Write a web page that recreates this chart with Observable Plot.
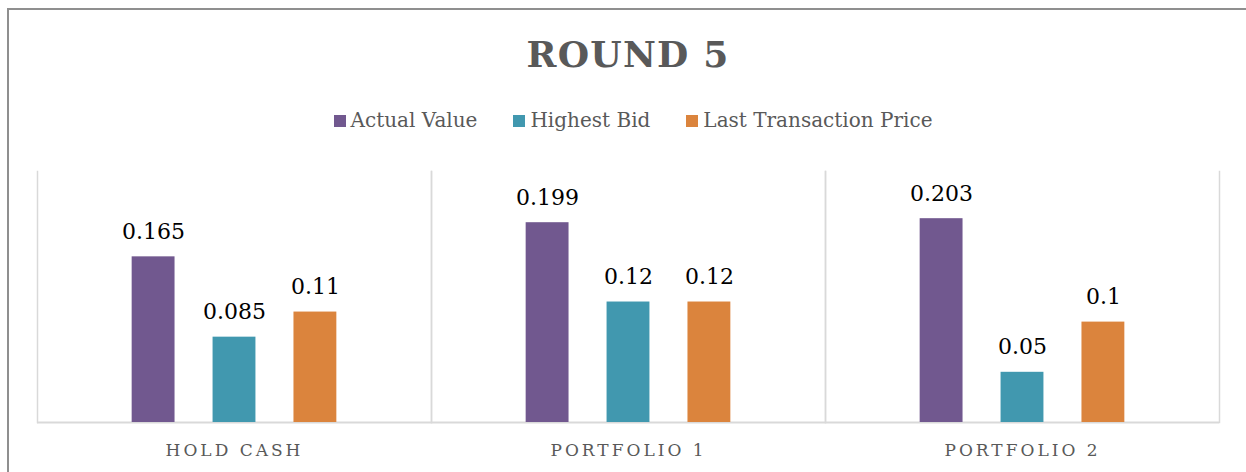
<!DOCTYPE html>
<html>
<head>
<meta charset="utf-8">
<script src="https://cdn.jsdelivr.net/npm/d3@7"></script>
<script src="https://cdn.jsdelivr.net/npm/@observablehq/plot@0.6"></script>
<style>
  html, body { margin: 0; padding: 0; background: #fff; }
  body { width: 1246px; height: 472px; overflow: hidden; position: relative; font-family: "DejaVu Serif", serif; }
  .frame { position: absolute; left: 7px; top: 8px; width: 1300px; height: 600px; border: 2px solid #8f8f8f; box-sizing: border-box; }
  .title { position: absolute; left: 0; top: 36px; width: 1256px; text-align: center; font-size: 36px; line-height: 37px; font-weight: bold; color: #595959; letter-spacing: 1.2px; }
  .legend { position: absolute; left: 10px; top: 110px; width: 1246px; display: flex; justify-content: center; font-size: 20px; line-height: 20px; color: #595959; }
  .legend .item { display: flex; align-items: baseline; margin: 0 18px; }
  .legend .sw { display: inline-block; width: 12px; height: 12px; margin-right: 5px; }
  #chart { position: absolute; left: 0; top: 150px; }
  #chart g[aria-label^="fx-axis"] text { letter-spacing: 3px; }
</style>
</head>
<body>
<div class="frame"></div>
<div class="title">ROUND 5</div>
<div class="legend" id="legend"></div>
<div id="chart"></div>
<script>
const categories = ["Hold Cash", "Portfolio 1", "Portfolio 2"];
const series = ["Actual Value", "Highest Bid", "Last Transaction Price"];
const actualValue = [0.165, 0.199, 0.203];
const highestBid = [0.085, 0.12, 0.05];
const lastTransactionPrice = [0.11, 0.12, 0.1];
const seriesColors = ["#71588F", "#4198AF", "#DB843D"];

const valuesBySeries = [actualValue, highestBid, lastTransactionPrice];
const data = categories.flatMap((c, i) =>
  series.map((s, j) => ({ category: c, series: s, value: valuesBySeries[j][i] }))
);

// Legend
const legend = document.getElementById("legend");
series.forEach((s, j) => {
  const item = document.createElement("span");
  item.className = "item";
  const sw = document.createElement("span");
  sw.className = "sw";
  sw.style.background = seriesColors[j];
  item.appendChild(sw);
  item.appendChild(document.createTextNode(s));
  legend.appendChild(item);
});

const chart = Plot.plot({
  width: 1246,
  height: 322,
  marginLeft: 37,
  marginRight: 27,
  marginTop: 21,
  marginBottom: 50,
  style: { fontFamily: "DejaVu Serif", fontSize: "17px", color: "#595959", background: "transparent" },
  fx: { domain: categories, padding: 0, label: null, axis: "bottom", tickSize: 0, tickPadding: 21, tickFormat: d => d.toUpperCase() },
  x: { domain: series, paddingInner: 0.47, paddingOuter: 1.17, round: false, axis: null },
  y: { domain: [0, 0.25], axis: null },
  color: { domain: series, range: seriesColors },
  marks: [
    Plot.frame({ anchor: "left", stroke: "#d9d9d9", strokeWidth: 1.5 }),
    Plot.frame({ anchor: "right", stroke: "#d9d9d9", strokeWidth: 1.5 }),
    Plot.ruleY([0], { stroke: "#d9d9d9", strokeWidth: 2 }),
    Plot.barY(data, { fx: "category", x: "series", y: "value", fill: "series" }),
    Plot.text(data, { fx: "category", x: "series", y: "value", text: d => String(d.value), lineAnchor: "bottom", dy: -18, fontSize: 22, fill: "#000" })
  ]
});
document.getElementById("chart").appendChild(chart);
</script>
</body>
</html>
